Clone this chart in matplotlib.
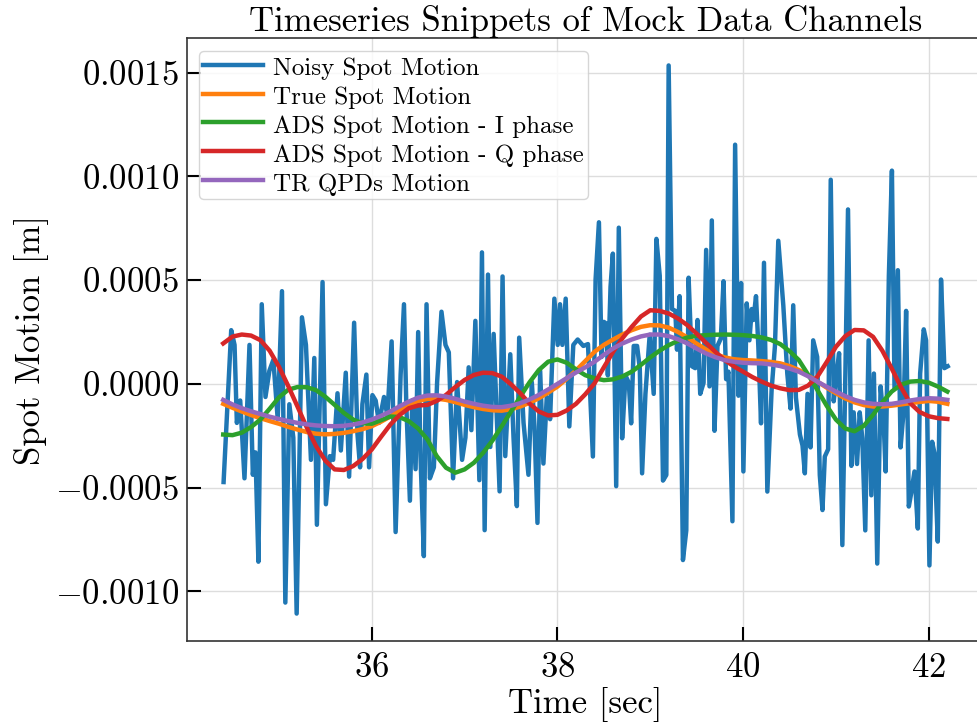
import numpy as np
import matplotlib
matplotlib.use('Agg')
from matplotlib import pyplot as plt

plt.rcParams['font.family'] = 'serif'
plt.rcParams['font.serif'] = ['cmr10']
plt.rcParams['mathtext.fontset'] = 'cm'
plt.rcParams['axes.formatter.use_mathtext'] = True
plt.rcParams['axes.unicode_minus'] = True

# noisy channel, values in units of 1e-4 m
noisy_t = [34.404, 34.486, 34.522, 34.547, 34.583, 34.629, 34.683, 34.719, 34.747, 34.779,
           34.815, 34.855, 34.897, 34.940, 34.987, 35.033, 35.069, 35.112, 35.155, 35.191,
           35.248, 35.291, 35.345, 35.381, 35.409, 35.470, 35.506, 35.549, 35.584, 35.631,
           35.667, 35.720, 35.756, 35.810, 35.846, 35.874, 35.899, 35.942, 35.971, 36.007,
           36.042, 36.078, 36.132, 36.168, 36.214, 36.257, 36.311, 36.347, 36.372, 36.411,
           36.436, 36.472, 36.500, 36.525, 36.561, 36.590, 36.626, 36.669, 36.704, 36.751,
           36.794, 36.830, 36.876, 36.919, 36.973, 37.009, 37.044, 37.073, 37.116, 37.159,
           37.187, 37.216, 37.252, 37.277, 37.313, 37.348, 37.377, 37.409, 37.438, 37.492,
           37.527, 37.563, 37.588, 37.635, 37.688, 37.724, 37.753, 37.785, 37.814, 37.849,
           37.885, 37.921, 37.967, 38.003, 38.028, 38.053, 38.089, 38.128, 38.171, 38.218,
           38.279, 38.329, 38.382, 38.411, 38.447, 38.475, 38.500, 38.529, 38.543, 38.572,
           38.597, 38.633, 38.661, 38.697, 38.733, 38.769, 38.794, 38.822, 38.858, 38.887,
           38.912, 38.948, 38.994, 39.037, 39.066, 39.102, 39.137, 39.173, 39.198, 39.234,
           39.270, 39.288, 39.316, 39.352, 39.388, 39.413, 39.449, 39.484, 39.509, 39.538,
           39.574, 39.602, 39.638, 39.663, 39.692, 39.724, 39.760, 39.789, 39.817, 39.842,
           39.885, 39.914, 39.950, 39.978, 40.003, 40.039, 40.068, 40.093, 40.111, 40.139,
           40.164, 40.193, 40.225, 40.261, 40.307, 40.343, 40.379, 40.433, 40.476, 40.511,
           40.540, 40.569, 40.612, 40.640, 40.665, 40.694, 40.726, 40.755, 40.798, 40.826,
           40.855, 40.880, 40.916, 40.944, 40.976, 41.005, 41.034, 41.069, 41.102, 41.130,
           41.166, 41.191, 41.227, 41.256, 41.284, 41.316, 41.352, 41.381, 41.409, 41.445,
           41.481, 41.513, 41.535, 41.570, 41.603, 41.631, 41.667, 41.696, 41.728, 41.756,
           41.785, 41.810, 41.846, 41.882, 41.907, 41.946, 41.971, 42.007, 42.036, 42.061,
           42.097, 42.132, 42.168, 42.204]
noisy_v = [-4.73, 2.59, 1.88, -1.88, -0.80, -4.55, 1.88, -4.38, -3.30, -8.57,
           3.84, -0.63, 0.63, 1.16, -1.70, 4.47, -10.54, -0.98, -2.59, -11.07,
           3.21, 1.88, -3.66, 1.25, -6.79, 4.91, -5.80, -3.48, -3.66, -0.45,
           -3.21, 0.54, -4.47, 2.95, -2.41, -4.02, -0.98, 0.45, -4.02, -0.54,
           -0.80, -1.88, -0.63, -1.52, 2.05, -7.14, 0.45, 3.84, -0.98, -5.63,
           -0.80, -4.11, 2.50, -3.48, -8.30, 3.84, -4.55, -4.02, 0.09, 3.48,
           1.88, 1.52, -4.55, 0.09, -3.66, -2.59, 0.80, -2.23, 3.04, -4.64,
           6.34, -7.05, 5.27, -3.04, 2.41, -1.70, -5.18, 5.18, -3.48, 1.43,
           -2.59, -5.89, 2.23, -1.88, -4.38, 0.09, -2.05, -6.70, 0.63, -3.84,
           -0.63, -1.70, 4.11, 1.88, 3.84, 1.88, 4.11, -2.05, 1.88, 2.14,
           1.83, 1.92, -3.50, 5.03, 7.79, 1.30, 2.99, 2.90, 0.41, 4.68,
           6.28, -4.93, 7.53, -2.62, 0.41, 0.05, -1.90, 1.83, 1.83, 0.76,
           -4.31, -0.48, 2.37, -0.48, 6.99, 5.21, -4.66, -4.39, 15.35, 3.61,
           3.52, 1.65, 4.23, -8.49, -7.06, 5.12, 0.85, 0.76, 3.08, -0.48,
           0.05, 6.46, -0.12, 7.88, -2.26, 1.83, 2.19, 4.95, 0.23, 0.59,
           -6.62, 11.53, -0.57, 4.86, -4.22, 3.88, 2.10, 3.61, 3.08, 4.23,
           1.83, -1.90, 5.84, -5.19, -0.30, 1.83, 6.90, 3.79, 0.50, -1.19,
           3.79, -0.66, -2.44, -2.97, -4.31, -0.48, -3.06, 2.10, 1.30, -4.39,
           -6.08, -3.50, -3.15, 9.84, -0.84, 0.41, 1.48, -7.77, 0.59, 8.41,
           -3.95, -1.37, -3.86, -1.37, -2.62, -7.06, 2.10, -5.37, 0.50, -8.66,
           -0.12, -1.73, -4.22, 5.21, 10.28, -0.21, 5.48, -3.06, -1.37, 3.52,
           -5.91, -5.28, -4.22, -6.97, 0.50, 2.63, 2.10, -8.75, -2.79, -3.33,
           -7.60, 5.03, 0.76, 0.85]

# smooth channels sampled every 0.1 s, values in units of 1e-4 m
smooth_t = [34.4, 34.5, 34.6, 34.7, 34.8, 34.9, 35.0, 35.1, 35.2, 35.3,
            35.4, 35.5, 35.6, 35.7, 35.8, 35.9, 36.0, 36.1, 36.2, 36.3,
            36.4, 36.5, 36.6, 36.7, 36.8, 36.9, 37.0, 37.1, 37.2, 37.3,
            37.4, 37.5, 37.6, 37.7, 37.8, 37.9, 38.0, 38.1, 38.2, 38.3,
            38.4, 38.5, 38.6, 38.7, 38.8, 38.9, 39.0, 39.1, 39.2, 39.3,
            39.4, 39.5, 39.6, 39.7, 39.8, 39.9, 40.0, 40.1, 40.2, 40.3,
            40.4, 40.5, 40.6, 40.7, 40.8, 40.9, 41.0, 41.1, 41.2, 41.3,
            41.4, 41.5, 41.6, 41.7, 41.8, 41.9, 42.0, 42.1, 42.2]
true_v = [-0.96, -1.15, -1.33, -1.50, -1.65, -1.79, -1.92, -2.07, -2.20, -2.32,
          -2.40, -2.43, -2.41, -2.36, -2.28, -2.18, -2.04, -1.82, -1.57, -1.28,
          -1.01, -0.82, -0.72, -0.71, -0.77, -0.88, -1.01, -1.12, -1.21, -1.27,
          -1.29, -1.22, -1.09, -0.91, -0.69, -0.42, -0.13, 0.25, 0.65, 1.10,
          1.55, 1.88, 2.14, 2.38, 2.59, 2.75, 2.83, 2.82, 2.71, 2.50,
          2.24, 1.94, 1.66, 1.44, 1.28, 1.19, 1.15, 1.13, 1.10, 1.06,
          0.99, 0.86, 0.67, 0.41, 0.11, -0.18, -0.45, -0.70, -0.89, -1.02,
          -1.09, -1.09, -1.05, -0.99, -0.93, -0.87, -0.82, -0.86, -0.96]
ads_i_v = [-2.44, -2.47, -2.35, -2.08, -1.72, -1.20, -0.65, -0.28, -0.15, -0.16,
           -0.30, -0.62, -1.01, -1.40, -1.72, -1.90, -1.92, -1.75, -1.57, -1.60,
           -1.80, -2.15, -2.68, -3.48, -4.04, -4.28, -4.12, -3.80, -3.32, -2.73,
           -2.04, -1.33, -0.61, 0.08, 0.67, 1.07, 1.18, 1.02, 0.70, 0.42,
           0.27, 0.18, 0.22, 0.36, 0.59, 0.92, 1.28, 1.60, 1.87, 2.08,
           2.24, 2.32, 2.35, 2.37, 2.38, 2.37, 2.35, 2.31, 2.24, 2.12,
           1.92, 1.58, 1.15, 0.45, -0.29, -1.05, -1.72, -2.15, -2.28, -2.02,
           -1.49, -0.88, -0.37, -0.04, 0.11, 0.14, 0.06, -0.13, -0.37]
ads_q_v = [1.95, 2.28, 2.38, 2.33, 2.11, 1.60, 0.83, -0.10, -1.09, -2.10,
           -3.00, -3.70, -4.12, -4.15, -3.96, -3.62, -3.16, -2.55, -1.96, -1.50,
           -1.17, -1.04, -1.01, -0.82, -0.53, -0.15, 0.19, 0.43, 0.54, 0.52,
           0.35, -0.02, -0.45, -0.95, -1.33, -1.52, -1.49, -1.28, -0.96, -0.50,
           0.03, 0.80, 1.55, 2.20, 2.75, 3.25, 3.55, 3.52, 3.39, 3.15,
           2.83, 2.42, 1.98, 1.55, 1.15, 0.85, 0.59, 0.33, 0.11, -0.08,
           -0.21, -0.30, -0.29, -0.08, 0.35, 1.05, 1.79, 2.30, 2.60, 2.58,
           2.27, 1.60, 0.75, -0.15, -0.93, -1.35, -1.56, -1.65, -1.69]
tr_qpd_v = [-0.77, -0.99, -1.17, -1.32, -1.45, -1.58, -1.69, -1.79, -1.88, -1.95,
            -2.00, -2.03, -2.04, -2.02, -1.96, -1.86, -1.72, -1.54, -1.33, -1.08,
            -0.85, -0.66, -0.56, -0.55, -0.61, -0.72, -0.85, -0.96, -1.05, -1.11,
            -1.12, -1.05, -0.93, -0.75, -0.53, -0.27, 0.00, 0.28, 0.55, 0.80,
            1.07, 1.40, 1.71, 1.95, 2.14, 2.29, 2.38, 2.38, 2.30, 2.15,
            1.95, 1.70, 1.47, 1.29, 1.15, 1.07, 1.02, 1.00, 0.99, 0.94,
            0.86, 0.74, 0.59, 0.37, 0.11, -0.14, -0.37, -0.59, -0.77, -0.89,
            -0.96, -0.98, -0.96, -0.89, -0.80, -0.73, -0.69, -0.71, -0.77]

labels = ['Noisy Spot Motion', 'True Spot Motion', 'ADS Spot Motion - I phase',
          'ADS Spot Motion - Q phase', 'TR QPDs Motion']

fig = plt.figure(figsize=(9.77, 7.27), dpi=100)
ax = fig.add_axes([0.1914, 0.1183, 0.8157, 0.8294])

scale = 1e-4
lw = 3.2
ax.plot(noisy_t, np.array(noisy_v) * scale, color='C0', lw=lw, label=labels[0])
ax.plot(smooth_t, np.array(true_v) * scale, color='C1', lw=lw, label=labels[1])
ax.plot(smooth_t, np.array(ads_i_v) * scale, color='C2', lw=lw, label=labels[2])
ax.plot(smooth_t, np.array(ads_q_v) * scale, color='C3', lw=lw, label=labels[3])
ax.plot(smooth_t, np.array(tr_qpd_v) * scale, color='C4', lw=lw, label=labels[4])

ax.grid(True, color='#dddddd', lw=1)
ax.set_axisbelow(True)
ax.tick_params(direction='in', length=10, width=1.5, labelsize=25, pad=8)
ax.tick_params(axis='y', pad=6)
for sp in ax.spines.values():
    sp.set_color('#333333')
    sp.set_linewidth(1.2)

ax.set_xlabel('Time [sec]', fontsize=25, labelpad=2)
ax.set_ylabel('Spot Motion [m]', fontsize=25)
ax.set_title('Timeseries Snippets of Mock Data Channels', fontsize=25, pad=4)

ax.legend(loc='upper left', fontsize=18, handlelength=2.4, handletextpad=0.4,
          handleheight=1.15, labelspacing=0.12, borderpad=0.15, borderaxespad=0.5)

fig.savefig('out.png', dpi=100)
